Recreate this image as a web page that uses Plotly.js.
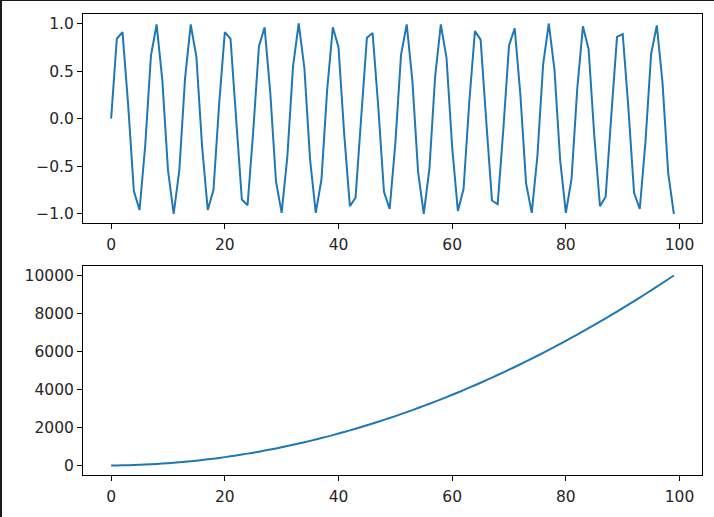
<!DOCTYPE html>
<html>
<head>
<meta charset="utf-8">
<script src="https://cdn.plot.ly/plotly-3.0.1.min.js"></script>
<style>
  html, body { margin: 0; padding: 0; background: #fff; }
  #chart { position: absolute; left: 0; top: 0; width: 714px; height: 517px; }
  #bt { position: absolute; left: 0; top: 0; width: 714px; height: 1px; background: #1a1a1a; }
  #bl { position: absolute; left: 0; top: 0; width: 2px; height: 517px; background: #1a1a1a; }
</style>
</head>
<body>
<div id="chart"></div>
<div id="bt"></div>
<div id="bl"></div>
<script>
const xValues = Array.from({length: 100}, (_, i) => i);

const sineValues = [
  0.00, 0.84, 0.91, 0.14, -0.76, -0.96, -0.28, 0.66, 0.99, 0.41,
  -0.54, -1.00, -0.54, 0.42, 0.99, 0.65, -0.29, -0.96, -0.75, 0.15,
  0.91, 0.84, -0.01, -0.85, -0.91, -0.13, 0.76, 0.96, 0.27, -0.66,
  -0.99, -0.40, 0.55, 1.00, 0.53, -0.43, -0.99, -0.64, 0.30, 0.96,
  0.75, -0.16, -0.92, -0.83, 0.02, 0.85, 0.90, 0.12, -0.77, -0.95,
  -0.26, 0.67, 0.99, 0.40, -0.56, -1.00, -0.52, 0.44, 0.99, 0.64,
  -0.30, -0.97, -0.74, 0.17, 0.92, 0.83, -0.03, -0.86, -0.90, -0.11,
  0.77, 0.95, 0.25, -0.68, -0.99, -0.39, 0.57, 1.00, 0.51, -0.44,
  -0.99, -0.63, 0.31, 0.97, 0.73, -0.18, -0.92, -0.82, 0.04, 0.86,
  0.89, 0.11, -0.78, -0.95, -0.25, 0.68, 0.98, 0.38, -0.57, -1.00
];

const squareValues = [
  1, 4, 9, 16, 25, 36, 49, 64, 81, 100,
  121, 144, 169, 196, 225, 256, 289, 324, 361, 400,
  441, 484, 529, 576, 625, 676, 729, 784, 841, 900,
  961, 1024, 1089, 1156, 1225, 1296, 1369, 1444, 1521, 1600,
  1681, 1764, 1849, 1936, 2025, 2116, 2209, 2304, 2401, 2500,
  2601, 2704, 2809, 2916, 3025, 3136, 3249, 3364, 3481, 3600,
  3721, 3844, 3969, 4096, 4225, 4356, 4489, 4624, 4761, 4900,
  5041, 5184, 5329, 5476, 5625, 5776, 5929, 6084, 6241, 6400,
  6561, 6724, 6889, 7056, 7225, 7396, 7569, 7744, 7921, 8100,
  8281, 8464, 8649, 8836, 9025, 9216, 9409, 9604, 9801, 10000
];

const xTicks = [0, 20, 40, 60, 80, 100];
const sineTicks = [-1, -0.5, 0, 0.5, 1];
const squareTicks = [0, 2000, 4000, 6000, 8000, 10000];

const lineColor = '#1f77b4';

const traces = [
  { x: xValues, y: sineValues, type: 'scatter', mode: 'lines', xaxis: 'x', yaxis: 'y',
    line: { color: lineColor, width: 2, simplify: false }, hoverinfo: 'skip' },
  { x: xValues, y: squareValues, type: 'scatter', mode: 'lines', xaxis: 'x2', yaxis: 'y2',
    line: { color: lineColor, width: 2, simplify: false }, hoverinfo: 'skip' }
];

const axisCommon = {
  showgrid: false, zeroline: false, showline: true, mirror: true,
  linecolor: '#000', linewidth: 1,
  ticks: 'outside', ticklen: 5, tickwidth: 1, tickcolor: '#000',
  tickfont: { family: 'DejaVu Sans', size: 15.5, color: '#262626' }
};

const xAxisExtra = { ticklabelstandoff: 2 };

const layout = {
  width: 714, height: 517,
  paper_bgcolor: '#fff', plot_bgcolor: '#fff',
  showlegend: false,
  margin: { l: 83, r: 12, t: 14, b: 42 },
  xaxis: Object.assign({}, axisCommon, xAxisExtra, { domain: [0, 1], anchor: 'y', range: [-4.95, 103.95], tickvals: xTicks }),
  yaxis: Object.assign({}, axisCommon, { domain: [0.546, 1], anchor: 'x', range: [-1.0999, 1.0999], tickvals: sineTicks, tickformat: '.1f' }),
  xaxis2: Object.assign({}, axisCommon, xAxisExtra, { domain: [0, 1], anchor: 'y2', range: [-4.95, 103.95], tickvals: xTicks }),
  yaxis2: Object.assign({}, axisCommon, { domain: [0, 0.4534], anchor: 'x2', range: [-499.95, 10499.95], tickvals: squareTicks, tickformat: 'd' })
};

Plotly.newPlot('chart', traces, layout, { staticPlot: true, displayModeBar: false });
</script>
</body>
</html>
